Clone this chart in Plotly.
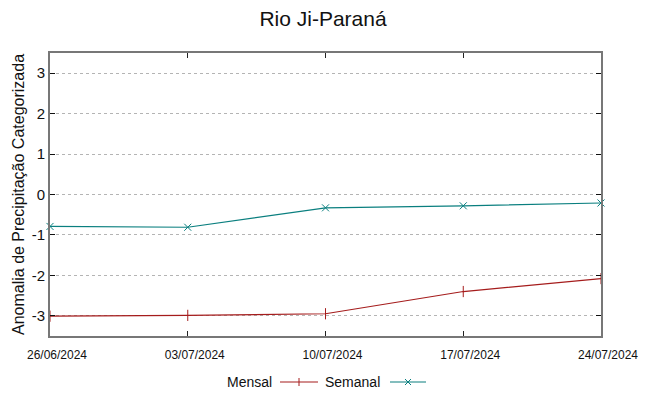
import plotly.graph_objects as go

dates = ["2024-06-26", "2024-07-03", "2024-07-10", "2024-07-17", "2024-07-24"]
tick_labels = ["26/06/2024", "03/07/2024", "10/07/2024", "17/07/2024", "24/07/2024"]
y_ticks = [-3, -2, -1, 0, 1, 2, 3]
y_tick_labels = ["-3", "-2", "-1", "0", "1", "2", "3"]
mensal = [-3.01, -2.99, -2.95, -2.40, -2.08]
semanal = [-0.79, -0.81, -0.33, -0.28, -0.21]

RED = "#a51c1c"
TEAL = "#0a7f7f"
SANS = "Liberation Sans, Arial, sans-serif"

W, H = 649, 396
L, R, T, B = 50, 48, 53, 60
pw = W - L - R
ph = H - T - B


def px_x(x):
    return (x - L) / pw


def px_y(y):
    return (H - B - y) / ph


fig = go.Figure()
fig.add_trace(go.Scatter(x=dates, y=mensal, mode="lines+markers", name="Mensal",
                         line=dict(color=RED, width=1.2),
                         marker=dict(symbol="line-ns", size=8, line=dict(color=RED, width=1)),
                         showlegend=False, cliponaxis=False))
fig.add_trace(go.Scatter(x=dates, y=semanal, mode="lines+markers", name="Semanal",
                         line=dict(color=TEAL, width=1.2),
                         marker=dict(symbol="x-thin", size=7, line=dict(color=TEAL, width=1)),
                         showlegend=False, cliponaxis=False))

# custom legend: text first, then sample (gnuplot style)
ly = 382
shapes = []
for (x0, x1, col, kind) in [(280, 318, RED, "+"), (390, 426, TEAL, "x")]:
    shapes.append(dict(type="line", xref="paper", yref="paper", x0=px_x(x0), x1=px_x(x1),
                       y0=px_y(ly), y1=px_y(ly), line=dict(color=col, width=1.2)))
    xm = (x0 + x1) / 2
    if kind == "+":
        shapes.append(dict(type="line", xref="paper", yref="paper", x0=px_x(xm), x1=px_x(xm),
                           y0=px_y(ly - 4), y1=px_y(ly + 4), line=dict(color=col, width=1)))
    else:
        shapes.append(dict(type="line", xref="paper", yref="paper", x0=px_x(xm - 3), x1=px_x(xm + 3),
                           y0=px_y(ly - 3), y1=px_y(ly + 3), line=dict(color=col, width=1)))
        shapes.append(dict(type="line", xref="paper", yref="paper", x0=px_x(xm - 3), x1=px_x(xm + 3),
                           y0=px_y(ly + 3), y1=px_y(ly - 3), line=dict(color=col, width=1)))

fig.update_layout(
    width=W, height=H,
    margin=dict(l=L, r=R, t=T, b=B, autoexpand=False),
    paper_bgcolor="white", plot_bgcolor="white",
    shapes=shapes,
    title=dict(text="Rio Ji-Paraná", x=323 / W, xanchor="center", y=1 - 19 / H, yanchor="middle",
               font=dict(family=SANS, size=21, color="#111")),
    xaxis=dict(type="date", range=[dates[0], dates[-1]], tickvals=dates, ticktext=tick_labels,
               ticks="inside", ticklen=5, tickcolor="#222", mirror="allticks",
               showline=True, linecolor="#777", linewidth=1.6,
               showgrid=False, zeroline=False, automargin=False,
               ticklabelshift=7, ticklabelstandoff=7,
               tickfont=dict(family=SANS, size=12, color="#111")),
    yaxis=dict(range=[-3.5, 3.5], tickvals=y_ticks, ticktext=y_tick_labels,
               ticks="inside", ticklen=5, tickcolor="#111", mirror="allticks",
               showline=True, linecolor="#777", linewidth=1.6,
               showgrid=True, gridcolor="#b4b4b4", griddash="dot", gridwidth=1,
               zeroline=False, automargin=False,
               title=dict(text="Anomalia de Precipitação Categorizada", standoff=3,
                          font=dict(family=SANS, size=16, color="#111")),
               tickfont=dict(family=SANS, size=15, color="#111")),
)

fig.add_annotation(x=px_x(274), y=px_y(ly), xref="paper", yref="paper",
                   text="Mensal", showarrow=False, xanchor="right", yanchor="middle",
                   font=dict(family=SANS, size=14, color="#111"))
fig.add_annotation(x=px_x(382), y=px_y(ly), xref="paper", yref="paper",
                   text="Semanal", showarrow=False, xanchor="right", yanchor="middle",
                   font=dict(family=SANS, size=14, color="#111"))

fig.write_html("out.html", config={"displayModeBar": False},
               post_script="document.body.style.margin='0';document.body.style.padding='0';")
